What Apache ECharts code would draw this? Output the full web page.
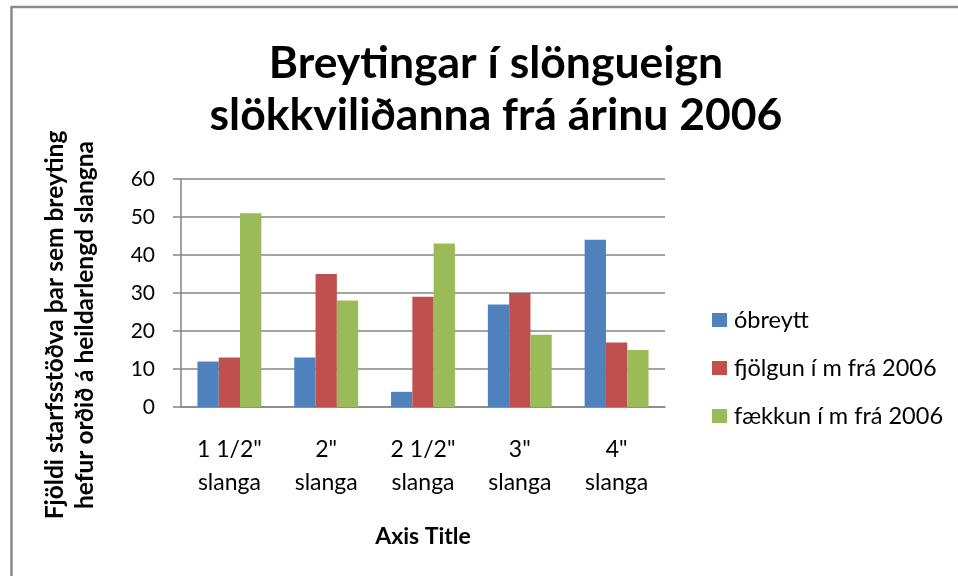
<!DOCTYPE html>
<html>
<head>
<meta charset="utf-8">
<script src="https://cdn.jsdelivr.net/npm/echarts@6/dist/echarts.min.js"></script>
<style>
  html, body { margin: 0; padding: 0; background: #fff; }
  #chart { width: 958px; height: 576px; }
</style>
</head>
<body>
<div id="chart"></div>
<script>
// Hose sizes (categories) and the number of stations per change type
const categories = ['1 1/2"\nslanga', '2"\nslanga', '2 1/2"\nslanga', '3"\nslanga', '4"\nslanga'];
const seriesNames = ['óbreytt', 'fjölgun í m frá 2006', 'fækkun í m frá 2006'];
const obreytt = [12, 13, 4, 27, 44];
const fjolgun = [13, 35, 29, 30, 17];
const faekkun = [51, 28, 43, 19, 15];
const yTicks = { min: 0, max: 60, interval: 10 };

const colors = ['#4F81BD', '#C0504D', '#9BBB59'];
const font = 'Lato, "Open Sans", sans-serif';

const chart = echarts.init(document.getElementById('chart'), null, { renderer: 'canvas' });

const values = [obreytt, fjolgun, faekkun];

chart.setOption({
  animation: false,
  backgroundColor: '#ffffff',
  color: colors,
  title: {
    text: 'Breytingar í slöngueign\nslökkviliðanna frá árinu 2006',
    left: 491,
    top: 33,
    textAlign: 'center',
    textStyle: {
      fontFamily: font,
      fontWeight: 'bold',
      fontSize: 44.5,
      lineHeight: 52,
      color: '#000'
    }
  },
  grid: { left: 181, top: 179, right: 293, bottom: 169, containLabel: false },
  legend: {
    orient: 'vertical',
    left: 707,
    top: 303,
    itemWidth: 15,
    itemHeight: 14,
    itemGap: 24,
    icon: 'rect',
    textStyle: { fontFamily: font, fontSize: 23.5, color: '#000', padding: [0, 0, 0, 2] },
    data: seriesNames
  },
  xAxis: {
    type: 'category',
    data: categories,
    name: 'Axis Title',
    nameLocation: 'middle',
    nameGap: 118,
    nameTextStyle: { fontFamily: font, fontWeight: 'bold', fontSize: 23, color: '#000' },
    axisLine: { lineStyle: { color: '#868686', width: 1.5 } },
    axisTick: { show: false },
    axisLabel: { fontFamily: font, fontSize: 23, color: '#000', lineHeight: 33, margin: 26 }
  },
  yAxis: {
    type: 'value',
    min: yTicks.min,
    max: yTicks.max,
    interval: yTicks.interval,
    axisLine: { show: true, lineStyle: { color: '#868686', width: 1.5 } },
    axisTick: { show: true, length: 8, lineStyle: { color: '#868686', width: 1.5 } },
    axisLabel: { fontFamily: font, fontSize: 21, color: '#000', margin: 26 },
    splitLine: { lineStyle: { color: '#868686', width: 1.5 } }
  },
  series: seriesNames.map((name, i) => ({
    name: name,
    type: 'bar',
    data: values[i],
    barGap: '0%',
    barCategoryGap: '34%',
    itemStyle: { color: colors[i] }
  })),
  graphic: [
    {
      type: 'rect',
      shape: { x: 11.5, y: 7, width: 1000, height: 1000 },
      style: { fill: 'none', stroke: '#8a8a8a', lineWidth: 2.5 },
      silent: true
    },
    {
      type: 'text',
      x: 70,
      y: 325,
      rotation: Math.PI / 2,
      style: {
        text: 'Fjöldi starfsstöðva þar sem breyting\nhefur orðið á heildarlengd slangna',
        fontFamily: font,
        fontWeight: 'bold',
        fontSize: 24.5,
        lineHeight: 30,
        fill: '#000',
        align: 'center',
        verticalAlign: 'middle'
      }
    }
  ]
});
</script>
</body>
</html>
